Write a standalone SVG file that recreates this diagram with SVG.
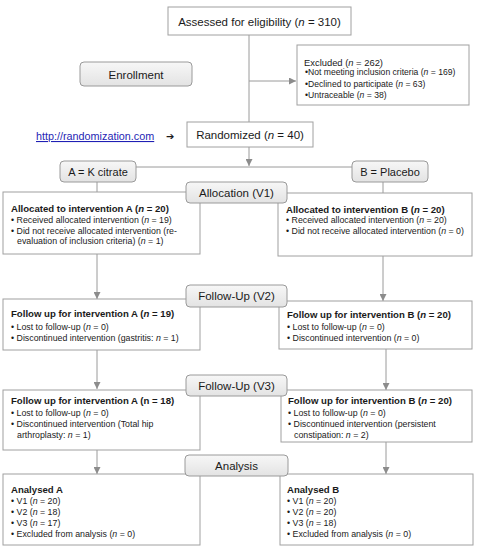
<svg xmlns="http://www.w3.org/2000/svg" width="481" height="550" viewBox="0 0 481 550">
<defs>
<linearGradient id="lg" x1="0" y1="0" x2="0" y2="1">
<stop offset="0" stop-color="#f7f7f7"/>
<stop offset="1" stop-color="#e3e3e3"/>
</linearGradient>
<marker id="ah" viewBox="0 0 10 10" refX="10" refY="5" markerWidth="7" markerHeight="7" markerUnits="userSpaceOnUse" orient="auto">
<path d="M0,0 L10,5 L0,10 z" fill="#8c8c8c"/>
</marker>
</defs>
<style>
.box{fill:#fff;stroke:#a0a0a0;stroke-width:1}
.lab{fill:url(#lg);stroke:#9a9a9a;stroke-width:1}
.ln{stroke:#9a9a9a;stroke-width:1;fill:none}
.ar{marker-end:url(#ah)}
text{font-family:"Liberation Sans",Arial,sans-serif;fill:#1a1a1a}
.t{font-size:11.5px}
.m{font-size:11px}
.h{font-size:9.6px;font-weight:bold}
.s{font-size:8.8px}
.e{font-size:9.4px}
.x{font-size:8.6px}
</style>
<rect width="481" height="550" fill="#fff"/>
<g id="connectors">
<line class="ln" x1="249" y1="35" x2="249" y2="122"/>
<line class="ln ar" x1="249" y1="81" x2="296" y2="81"/>
<line class="ln ar" x1="249" y1="147" x2="249" y2="166"/>
<line class="ln" x1="136" y1="167" x2="352" y2="167"/>
<line class="ln" x1="97" y1="182" x2="97" y2="192"/>
<line class="ln" x1="383" y1="182" x2="383" y2="193"/>
<line class="ln ar" x1="97" y1="254" x2="97" y2="299"/>
<line class="ln ar" x1="383" y1="256" x2="383" y2="301"/>
<line class="ln ar" x1="97" y1="350" x2="97" y2="389"/>
<line class="ln ar" x1="386" y1="349" x2="386" y2="390"/>
<line class="ln ar" x1="97" y1="450" x2="97" y2="474"/>
<line class="ln ar" x1="386" y1="442" x2="386" y2="474"/>
</g>
<g id="assessed">
<rect class="box" x="168" y="7" width="183" height="28"/>
<text class="t" x="259.5" y="25.5" text-anchor="middle">Assessed  for eligibility  (<tspan font-style="italic">n</tspan> = 310)</text>
</g>
<g id="excluded">
<rect class="box" x="297" y="45" width="172" height="60"/>
<text class="e" x="304" y="66">Excluded (<tspan font-style="italic">n</tspan> = 262)</text>
<text class="x" x="305" y="75">•Not meeting inclusion criteria (<tspan font-style="italic">n</tspan> = 169)</text>
<text class="x" x="305" y="86.5">•Declined to participate (<tspan font-style="italic">n</tspan> = 63)</text>
<text class="x" x="305" y="98">•Untraceable (<tspan font-style="italic">n</tspan> = 38)</text>
</g>
<g id="enrollment">
<rect class="lab" x="80" y="62" width="112" height="24" rx="4"/>
<text class="t" x="136" y="78.5" text-anchor="middle">Enrollment</text>
</g>
<g id="randomization-link">
<text x="36" y="140" font-size="10.8px" style="fill:#1f1fb4" text-decoration="underline">http://randomization.com</text>
<text x="166" y="140" font-size="10px" style="font-family:'DejaVu Sans',sans-serif">➔</text>
</g>
<g id="randomized">
<rect class="box" x="187" y="122" width="126" height="25"/>
<text class="t" x="250" y="139" text-anchor="middle">Randomized  (<tspan font-style="italic">n</tspan> = 40)</text>
</g>
<g id="allocA">
<rect class="box" x="3" y="192" width="197" height="62"/>
<text class="h" x="11" y="212">Allocated to intervention A (<tspan font-style="italic">n</tspan> = 20)</text>
<text class="s" x="11" y="223">• Received allocated intervention (<tspan font-style="italic">n</tspan> = 19)</text>
<text class="s" x="11" y="233.5">• Did not receive allocated intervention (re-</text>
<text class="s" x="17" y="244">evaluation of inclusion criteria) (<tspan font-style="italic">n</tspan> = 1)</text>
</g>
<g id="allocB">
<rect class="box" x="278" y="193" width="194" height="63"/>
<text class="h" x="286" y="213">Allocated to intervention B (<tspan font-style="italic">n</tspan> = 20)</text>
<text class="s" x="286" y="223">• Received allocated intervention (<tspan font-style="italic">n</tspan> = 20)</text>
<text class="s" x="286" y="233.5">• Did not receive allocated intervention (<tspan font-style="italic">n</tspan> = 0)</text>
</g>
<g id="fu2A">
<rect class="box" x="3" y="299" width="197" height="51"/>
<text class="h" x="11" y="317">Follow up for intervention A (<tspan font-style="italic">n</tspan> = 19)</text>
<text class="s" x="11" y="330">• Lost to follow-up (<tspan font-style="italic">n</tspan> = 0)</text>
<text class="s" x="11" y="341">• Discontinued intervention (gastritis: <tspan font-style="italic">n</tspan> = 1)</text>
</g>
<g id="fu2B">
<rect class="box" x="279" y="301" width="193" height="48"/>
<text class="h" x="287" y="318">Follow up for intervention B (<tspan font-style="italic">n</tspan> = 20)</text>
<text class="s" x="287" y="329.5">• Lost to follow-up (<tspan font-style="italic">n</tspan> = 0)</text>
<text class="s" x="287" y="341">• Discontinued intervention (<tspan font-style="italic">n</tspan> = 0)</text>
</g>
<g id="fu3A">
<rect class="box" x="3" y="390" width="197" height="60"/>
<text class="h" x="11" y="404">Follow up for intervention A (n = 18)</text>
<text class="s" x="11" y="416">• Lost to follow-up (<tspan font-style="italic">n</tspan> = 0)</text>
<text class="s" x="11" y="427">• Discontinued intervention (Total hip</text>
<text class="s" x="17" y="438">arthroplasty: <tspan font-style="italic">n</tspan> = 1)</text>
</g>
<g id="fu3B">
<rect class="box" x="281" y="390" width="191" height="52"/>
<text class="h" x="288" y="404">Follow up for intervention B (<tspan font-style="italic">n</tspan> = 20)</text>
<text class="s" x="288" y="416">• Lost to follow-up (<tspan font-style="italic">n</tspan> = 0)</text>
<text class="s" x="288" y="427">• Discontinued intervention (persistent</text>
<text class="s" x="294" y="438">constipation: <tspan font-style="italic">n</tspan> = 2)</text>
</g>
<g id="analysedA">
<rect class="box" x="3" y="474" width="197" height="71"/>
<text class="h" x="11" y="492.5">Analysed A</text>
<text class="s" x="11" y="503.5">• V1 (<tspan font-style="italic">n</tspan> = 20)</text>
<text class="s" x="11" y="514.5">• V2 (<tspan font-style="italic">n</tspan> = 18)</text>
<text class="s" x="11" y="525.5">• V3 (<tspan font-style="italic">n</tspan> = 17)</text>
<text class="s" x="11" y="536.5">• Excluded from analysis (<tspan font-style="italic">n</tspan> = 0)</text>
</g>
<g id="analysedB">
<rect class="box" x="280" y="474" width="193" height="71"/>
<text class="h" x="287" y="492.5">Analysed B</text>
<text class="s" x="287" y="503.5">• V1 (<tspan font-style="italic">n</tspan> = 20)</text>
<text class="s" x="287" y="514.5">• V2 (<tspan font-style="italic">n</tspan> = 20)</text>
<text class="s" x="287" y="525.5">• V3 (<tspan font-style="italic">n</tspan> = 18)</text>
<text class="s" x="287" y="536.5">• Excluded from analysis (<tspan font-style="italic">n</tspan> = 0)</text>
</g>
<g id="armA">
<rect class="lab" x="60" y="161" width="76" height="21" rx="4"/>
<text class="m" x="98" y="175.5" text-anchor="middle">A = K citrate</text>
</g>
<g id="armB">
<rect class="lab" x="352" y="161" width="76" height="21" rx="4"/>
<text class="m" x="390" y="175.5" text-anchor="middle">B = Placebo</text>
</g>
<g id="allocation">
<rect class="lab" x="186" y="182" width="101" height="21" rx="4"/>
<text class="t" x="236.5" y="197" text-anchor="middle">Allocation (V1)</text>
</g>
<g id="followup2">
<rect class="lab" x="186" y="285" width="101" height="22" rx="4"/>
<text class="t" x="236.5" y="300" text-anchor="middle">Follow-Up (V2)</text>
</g>
<g id="followup3">
<rect class="lab" x="186" y="375" width="101" height="21" rx="4"/>
<text class="t" x="236.5" y="389.5" text-anchor="middle">Follow-Up (V3)</text>
</g>
<g id="analysis">
<rect class="lab" x="185" y="455" width="103" height="21" rx="4"/>
<text class="t" x="236.5" y="469.5" text-anchor="middle">Analysis</text>
</g>
</svg>
